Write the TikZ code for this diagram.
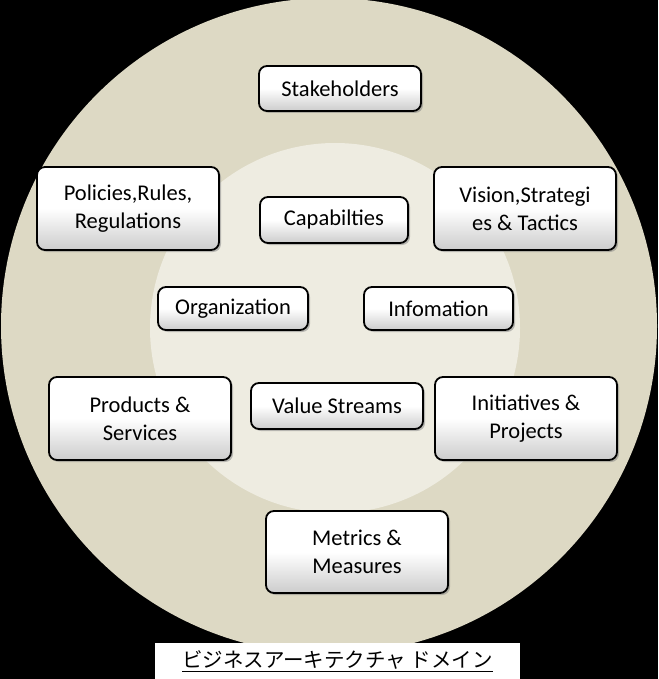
\documentclass[tikz,border=0pt]{standalone}
\usepackage{fontspec}
\setmainfont{Carlito}
\newfontfamily\cjk{Noto Sans CJK JP}
\usetikzlibrary{shadows}
\begin{document}
\begin{tikzpicture}[x=1pt,y=-1pt,
 bx/.style={draw=black,line width=1.8pt,rounded corners=8pt,top color=white,bottom color=white!80!black,middle color=white,
   drop shadow={shadow xshift=2pt,shadow yshift=-2pt,opacity=0.5},align=center,font=\fontsize{22.5}{28}\selectfont,inner sep=0pt}]
\useasboundingbox (0,0) rectangle (658,679);
\fill[black] (0,0) rectangle (658,679);
\fill[fill={rgb,255:red,221;green,217;blue,196}] (329,326) circle (328);
\fill[fill={rgb,255:red,238;green,236;blue,225}] (335,328) circle (185);
\newcommand\bxat[6]{\node[bx,minimum width=#4-#2,minimum height=#5-#3] (#1) at ({(#2+#4)/2},{(#3+#5)/2}) {#6};}
\bxat{sh}{259}{66}{421}{111}{Stakeholders}
\bxat{po}{37}{167}{219}{250}{Policies,Rules,\\Regulations}
\bxat{ca}{260}{197}{408}{243}{Capabilties}
\bxat{vi}{434}{167}{616}{250}{Vision,Strategi\\es \& Tactics}
\bxat{or}{158}{287}{308}{330}{Organization}
\bxat{in}{364}{287}{513}{330}{Infomation}
\bxat{pr}{49}{377}{231}{460}{Products \&\\Services}
\bxat{vs}{251}{383}{423}{429}{Value Streams}
\bxat{ip}{435}{377}{617}{460}{Initiatives \&\\Projects}
\bxat{me}{266}{511}{448}{593}{Metrics \&\\Measures}
\node[fill=white,minimum width=365,minimum height=36,inner sep=0pt] (t) at (337.5,661) {\cjk\fontsize{20.5}{24}\selectfont\underline{ビジネスアーキテクチャ ドメイン}};
\end{tikzpicture}
\end{document}
